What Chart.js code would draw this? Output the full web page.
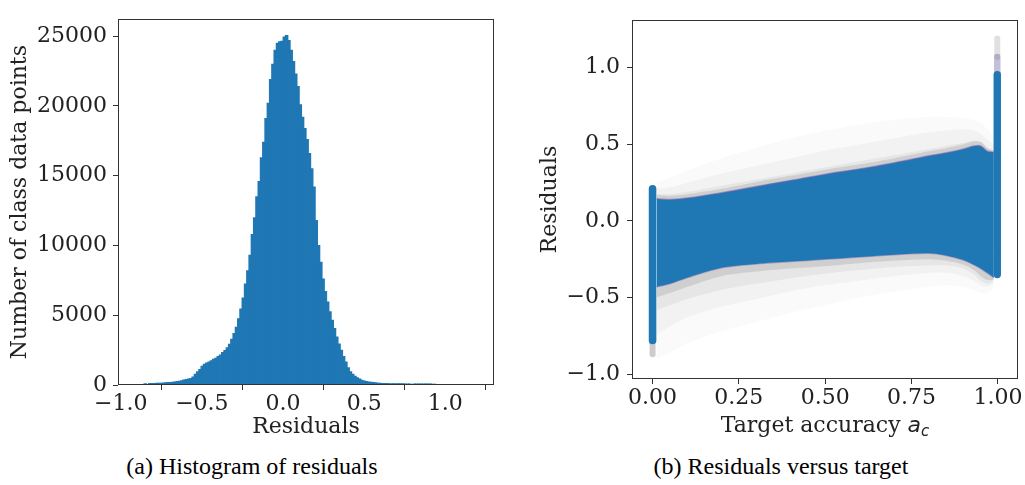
<!DOCTYPE html>
<html>
<head>
<meta charset="utf-8">
<script src="https://cdn.jsdelivr.net/npm/chart.js@4/dist/chart.umd.min.js"></script>
<style>
  body { margin: 0; background: #fff; width: 1025px; height: 485px; position: relative; overflow: hidden; }
  canvas { position: absolute; top: 0; }
  .caption { position: absolute; top: 453px; font-family: "Liberation Serif", serif; font-size: 24px; color: #000; text-align: center; width: 400px; }
</style>
</head>
<body>
<canvas id="hist" width="515" height="450" style="left:0"></canvas>
<canvas id="resid" width="505" height="450" style="left:520px"></canvas>
<div class="caption" style="left:52px">(a) Histogram of residuals</div>
<div class="caption" style="left:581px">(b) Residuals versus target</div>
<script>
// histogram of residuals: 150 bins between histMin and histMax
const histMin = -0.912
const histMax = 1.195
const histCounts = [
  0, 0, 10, 20, 90, 40, 110, 120, 120, 130,
  130, 140, 150, 160, 180, 190, 200, 220, 250, 280,
  320, 370, 400, 430, 480, 580, 780, 950, 1120, 1350,
  1500, 1580, 1660, 1740, 1850, 1930, 2050, 2160, 2330, 2480,
  2680, 2920, 3280, 3700, 4150, 4750, 5450, 6250, 7250, 8200,
  9300, 10800, 12000, 13500, 14600, 16300, 17400, 19100, 20200, 21900,
  23000, 24000, 24500, 24600, 24650, 24950, 25050, 24700, 24000, 23200,
  22300, 21400, 20100, 19200, 18400, 17600, 16600, 15500, 14200, 11800,
  10000, 8800, 7600, 6700, 5950, 5250, 4650, 4050, 3450, 2950,
  2500, 2050, 1650, 1250, 960, 780, 640, 520, 430, 350,
  300, 260, 230, 200, 180, 160, 140, 130, 120, 110,
  110, 100, 100, 100, 100, 100, 90, 90, 80, 80,
  70, 0, 80, 80, 80, 80, 80, 80, 70, 70,
  60, 60, 50, 50, 40, 0, 0, 0, 0, 0,
  0, 0, 0, 0, 0, 0, 0, 0, 0, 0
]
const histXTicks = [-1.0, -0.5, 0.0, 0.5, 1.0]
const histYTicks = [0, 5000, 10000, 15000, 20000, 25000]

// residuals vs target: band edges sampled along the target axis
const bandX      = [0.012, 0.05, 0.1, 0.2, 0.3, 0.4, 0.5, 0.6, 0.7, 0.8, 0.85, 0.9, 0.93, 0.95, 0.97, 0.988]
const blueUpper  = [0.145, 0.14, 0.15, 0.185, 0.225, 0.265, 0.305, 0.34, 0.38, 0.425, 0.445, 0.47, 0.49, 0.49, 0.455, 0.45]
const blueLower  = [-0.43, -0.41, -0.37, -0.305, -0.28, -0.265, -0.25, -0.235, -0.22, -0.21, -0.225, -0.255, -0.285, -0.31, -0.34, -0.37]
// gray haze of sparse points, from the dense edge outwards
const grayUpper0 = [0.17, 0.165, 0.175, 0.21, 0.255, 0.295, 0.335, 0.37, 0.41, 0.455, 0.475, 0.5, 0.52, 0.515, 0.475, 0.46]
const grayLower0 = [-0.5, -0.47, -0.43, -0.36, -0.33, -0.31, -0.295, -0.275, -0.26, -0.25, -0.26, -0.285, -0.32, -0.36, -0.385, -0.385]
const grayUpper1 = [0.18, 0.175, 0.19, 0.23, 0.27, 0.31, 0.35, 0.39, 0.43, 0.47, 0.49, 0.51, 0.525, 0.52, 0.48, 0.46]
const grayLower1 = [-0.58, -0.55, -0.51, -0.45, -0.41, -0.375, -0.345, -0.32, -0.3, -0.29, -0.29, -0.31, -0.35, -0.39, -0.41, -0.39]
const grayUpper2 = [0.21, 0.22, 0.25, 0.31, 0.36, 0.41, 0.46, 0.5, 0.54, 0.58, 0.59, 0.6, 0.59, 0.57, 0.53, 0.5]
const grayLower2 = [-0.74, -0.69, -0.63, -0.56, -0.51, -0.46, -0.42, -0.39, -0.36, -0.34, -0.34, -0.36, -0.39, -0.42, -0.43, -0.41]
const grayUpper3 = [0.25, 0.28, 0.33, 0.41, 0.48, 0.54, 0.59, 0.63, 0.66, 0.68, 0.68, 0.67, 0.66, 0.64, 0.6, 0.55]
const grayLower3 = [-0.9, -0.86, -0.8, -0.72, -0.66, -0.6, -0.55, -0.5, -0.46, -0.43, -0.42, -0.43, -0.45, -0.47, -0.47, -0.44]
// dense columns of points at target 0 and 1: [x, low, high]
const colZero = [0.0005, -0.78, 0.21]
const colOne = [0.998, -0.35, 0.955]
const colZeroTail = [0.0005, -0.87, -0.78]
const colOneTail = [0.998, 0.955, 1.07]
const colOneTip = [0.998, 1.07, 1.19]
const residXTicks = [0, 0.25, 0.5, 0.75, 1.0]
const residYTicks = [-1.0, -0.5, 0.0, 0.5, 1.0]

const BLUE = '#1f77b4'
const INK = '#222'
const tickFont = { family: 'DejaVu Serif', size: 22 }

const framePlugin = {
  id: 'frame',
  afterDraw(chart) {
    const a = chart.chartArea, c = chart.ctx
    c.save()
    c.strokeStyle = '#333'
    c.lineWidth = 1
    c.strokeRect(Math.round(a.left) + 0.5, Math.round(a.top) + 0.5,
      Math.round(a.right - a.left) - 1, Math.round(a.bottom - a.top) - 1)
    c.restore()
  }
}

function minus(s) { return s.replace('-', '\u2212') }

function axisOpts(min, max, ticks, fmt, pad, extra) {
  return Object.assign({
    type: 'linear', min: min, max: max,
    afterBuildTicks: s => { s.ticks = ticks.map(v => ({ value: v })) },
    ticks: { font: tickFont, color: INK, padding: pad, maxRotation: 0, autoSkip: false,
             callback: v => fmt(v) },
    grid: { drawOnChartArea: false, drawTicks: true, tickLength: 5, color: '#333' },
    border: { display: false }
  }, extra)
}

function createHist() {
  const w = (histMax - histMin) / histCounts.length
  const data = histCounts.map((c, i) => ({ x: histMin + (i + 0.5) * w, y: c }))
  new Chart(document.getElementById('hist'), {
    type: 'bar',
    data: { datasets: [{ data: data, backgroundColor: BLUE, borderWidth: 0, inflateAmount: 0.4,
                         barThickness: 'flex', barPercentage: 1.2, categoryPercentage: 1 }] },
    options: {
      responsive: false, animation: false,
      layout: { padding: { top: 19, right: 21, left: 0, bottom: 0 } },
      plugins: { legend: { display: false }, tooltip: { enabled: false } },
      scales: {
        x: axisOpts(-1.017, 1.30, histXTicks, v => minus(v.toFixed(1)), 1, {
          offset: false,
          title: { display: true, text: 'Residuals', font: tickFont, color: INK, padding: { bottom: 10 } },
          afterFit: s => { s.height = 65 }
        }),
        y: axisOpts(0, 26218, histYTicks, v => String(v), 6, {
          title: { display: true, text: 'Number of class data points', font: tickFont, color: INK, padding: { top: 7 } },
          afterFit: s => { s.width = 118 }
        })
      }
    },
    plugins: [framePlugin]
  })
}

function band(xs, ys) { return xs.map((x, i) => ({ x: x, y: ys[i] })) }
function column(c) { return [{ x: c[0], y: c[1] }, { x: c[0], y: c[2] }] }

// x axis title with a subscript, drawn under the tick labels
const accTitlePlugin = {
  id: 'accTitle',
  afterDraw(chart) {
    const c = chart.ctx, a = chart.chartArea
    const y = 432
    const p1 = 'Target accuracy '
    c.save()
    c.fillStyle = INK
    c.textBaseline = 'alphabetic'
    c.font = '22px "DejaVu Serif"'
    const w1 = c.measureText(p1).width
    c.font = 'italic 22px "DejaVu Sans"'
    const w2 = c.measureText('a').width
    c.font = 'italic 15px "DejaVu Sans"'
    const w3 = c.measureText('c').width
    let x = (a.left + a.right) / 2 - (w1 + w2 + w3) / 2
    c.font = '22px "DejaVu Serif"'
    c.fillText(p1, x, y)
    x += w1
    c.font = 'italic 22px "DejaVu Sans"'
    c.fillText('a', x, y)
    x += w2
    c.font = 'italic 15px "DejaVu Sans"'
    c.fillText('c', x, y + 4)
    c.restore()
  }
}

function createResid() {
  const line = { pointRadius: 0, borderWidth: 0, tension: 0.3 }
  const edge = 'rgba(130,100,175,0.5)'
  const haze = (up, lo, idx, alpha, order) => [
    Object.assign({ data: band(bandX, up), fill: idx + 1, backgroundColor: 'rgba(0,0,0,' + alpha + ')', order: order }, line),
    Object.assign({ data: band(bandX, lo), fill: false, order: order }, line)
  ]
  const stroke = (col, color, width, order) => ({ data: column(col), borderColor: color, borderWidth: width,
    borderCapStyle: 'round', pointRadius: 0, fill: false, order: order })
  const datasets = [].concat(
    haze(grayUpper3, grayLower3, 0, 0.02, 10),
    haze(grayUpper2, grayLower2, 2, 0.035, 9),
    haze(grayUpper1, grayLower1, 4, 0.05, 8),
    haze(grayUpper0, grayLower0, 6, 0.1, 7),
    [
      Object.assign({}, line, { data: band(bandX, blueUpper), fill: 9, backgroundColor: BLUE, borderColor: edge, borderWidth: 1.5, order: 4 }),
      Object.assign({}, line, { data: band(bandX, blueLower), fill: false, borderColor: edge, borderWidth: 1.5, order: 4 }),
      stroke(colZeroTail, 'rgba(0,0,0,0.2)', 6, 3),
      stroke(colOneTip, 'rgba(0,0,0,0.12)', 6, 3),
      stroke(colOneTail, 'rgba(110,95,150,0.4)', 6.5, 2),
      stroke(colZero, BLUE, 7.6, 1),
      stroke(colOne, BLUE, 7.4, 1)
    ]
  )
  new Chart(document.getElementById('resid'), {
    type: 'line',
    data: { datasets: datasets },
    options: {
      responsive: false, animation: false,
      layout: { padding: { top: 4, right: 7, left: 0, bottom: 0 } },
      plugins: { legend: { display: false }, tooltip: { enabled: false } },
      scales: {
        x: axisOpts(-0.059, 1.058, residXTicks, v => v.toFixed(2), 1, {
          afterFit: s => { s.height = 71 }
        }),
        y: axisOpts(-1.031, 1.31, residYTicks, v => minus(v.toFixed(1)), 7, {
          title: { display: true, text: 'Residuals', font: tickFont, color: INK, padding: { top: 17 } },
          afterFit: s => { s.width = 112 }
        })
      }
    },
    plugins: [framePlugin, accTitlePlugin]
  })
}

createHist()
createResid()
</script>
</body>
</html>
